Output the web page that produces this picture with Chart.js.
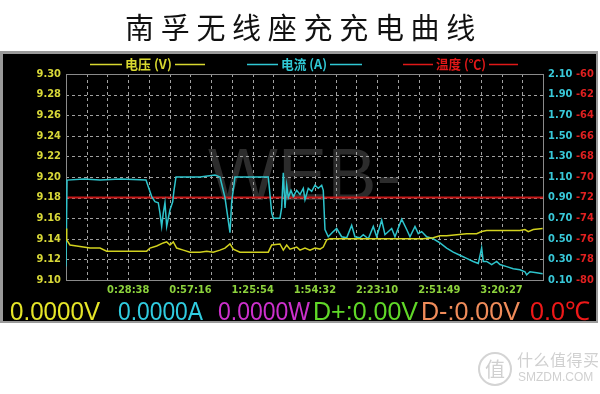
<!DOCTYPE html>
<html>
<head>
<meta charset="utf-8">
<script src="https://cdn.jsdelivr.net/npm/chart.js@4.4.1/dist/chart.umd.min.js"></script>
<style>
  html, body { margin: 0; padding: 0; background: #fff; }
  #wrap { position: relative; width: 600px; height: 394px; overflow: hidden; }
  #c { position: absolute; left: 0; top: 0; }
  #title { position: absolute; left: 125px; top: 10px; font: 29px/32px "Noto Sans CJK SC", sans-serif; letter-spacing: 6.7px; color: #111; white-space: nowrap; }
  #logo { position: absolute; left: 478px; top: 352px; width: 30px; height: 30px; border: 2px solid #d4d4d4; border-radius: 50%; color: #d0d0d0; font: 20px/30px "Noto Sans CJK SC", sans-serif; text-align: center; }
  #wm1 { position: absolute; left: 517px; top: 350px; font: 16px/18px "Noto Sans CJK SC", sans-serif; color: #d0d0d0; letter-spacing: 0.5px; }
  #wm2 { position: absolute; left: 518px; top: 370px; font: 12px/14px "Liberation Sans", sans-serif; color: #d0d0d0; }
</style>
</head>
<body>
<div id="wrap">
  <canvas id="c" width="600" height="394"></canvas>
  <div id="title">南孚无线座充充电曲线</div>
  <div id="logo">值</div>
  <div id="wm1">什么值得买</div>
  <div id="wm2">SMZDM.COM</div>
</div>
<script>
// 时间轴刻度 (h:mm:ss)
const xTickLabels = ['0:28:38', '0:57:16', '1:25:54', '1:54:32', '2:23:10', '2:51:49', '3:20:27'];
// 左轴 电压, 右轴 电流 / 温度
const voltTicks = [9.10, 9.12, 9.14, 9.16, 9.18, 9.20, 9.22, 9.24, 9.26, 9.28, 9.30];
const currTicks = [0.10, 0.30, 0.50, 0.70, 0.90, 1.10, 1.30, 1.50, 1.70, 1.90, 2.10];
const tempTicks = [-80, -78, -76, -74, -72, -70, -68, -66, -64, -62, -60];

// 电压 (V), 时间单位: 秒
const voltT = [0, 19, 110, 295, 478, 663, 939, 1124, 2228, 2319, 2504, 2686, 2780, 2871, 2963, 3056, 3239, 3424, 3700, 3885,
  4067, 4252, 4390, 4528, 4619, 4804, 5171, 5356, 5586, 5680, 5908, 6000, 6094, 6185, 6370, 6461, 6599, 6737, 6875, 7013,
  7104, 7198, 7289, 8670, 9865, 10141, 10326, 10511, 10787, 11063, 11339, 11477, 11616, 11983, 12535, 12673, 12765, 12903, 13162];
const voltV = [9.150, 9.139, 9.134, 9.133, 9.132, 9.131, 9.131, 9.128, 9.128, 9.131, 9.133, 9.136, 9.137, 9.134, 9.137, 9.131, 9.129, 9.127, 9.127, 9.128,
  9.127, 9.129, 9.131, 9.135, 9.130, 9.127, 9.127, 9.127, 9.127, 9.134, 9.135, 9.129, 9.134, 9.130, 9.132, 9.129, 9.131, 9.129, 9.131, 9.130,
  9.132, 9.139, 9.140, 9.140, 9.140, 9.141, 9.143, 9.143, 9.144, 9.145, 9.145, 9.147, 9.148, 9.148, 9.148, 9.149, 9.147, 9.149, 9.150];

// 电流 (A)
const currT = [0, 28, 500, 939, 1500, 2209, 2366, 2457, 2548, 2595, 2642, 2686, 2733, 2780, 2871, 2946, 2982, 3037, 3700, 4114,
  4252, 4390, 4528, 4575, 4666, 5586, 5680, 5724, 5908, 5955, 6000, 6047, 6094, 6138, 6212, 6276, 6370, 6461, 6552, 6599,
  6690, 6784, 6875, 6966, 7060, 7104, 7151, 7242, 7380, 7474, 7612, 7750, 7888, 7979, 8117, 8209, 8347, 8485, 8579, 8717,
  8808, 8993, 9084, 9269, 9407, 9498, 9636, 9727, 9821, 9959, 10141, 10326, 10511, 10693, 10878, 11063, 11245, 11384, 11477, 11522,
  11616, 11754, 11892, 11983, 12168, 12350, 12535, 12673, 12720, 12811, 12996, 13162];
const currA = [0.23, 1.07, 1.08, 1.07, 1.08, 1.07, 0.91, 0.86, 0.85, 0.75, 0.62, 0.75, 0.85, 0.62, 0.78, 0.86, 0.97, 1.10, 1.10, 1.12,
  1.10, 0.90, 0.56, 0.86, 1.10, 1.10, 0.75, 0.70, 0.70, 0.80, 1.14, 0.80, 1.02, 0.90, 0.97, 0.91, 0.97, 0.93, 0.99, 0.88,
  0.99, 0.96, 1.02, 0.99, 1.02, 0.97, 0.59, 0.52, 0.57, 0.60, 0.52, 0.51, 0.63, 0.52, 0.51, 0.54, 0.50, 0.62, 0.52, 0.68,
  0.54, 0.60, 0.52, 0.69, 0.59, 0.52, 0.62, 0.55, 0.57, 0.52, 0.50, 0.46, 0.41, 0.37, 0.34, 0.31, 0.28, 0.26, 0.41, 0.28,
  0.28, 0.25, 0.28, 0.25, 0.23, 0.21, 0.20, 0.18, 0.15, 0.18, 0.17, 0.16];

// 温度 (℃)
const tempT = [0, 13172];
const tempC = [-72, -72];

const toSec = s => s.split(':').reduce((a, v) => a * 60 + Number(v), 0);
const gridStep = toSec(xTickLabels[0]) / 3;
const xMax = gridStep * 23;

const pts = (xs, ys) => xs.map((x, i) => ({ x: x, y: ys[i] }));

// 黑色面板, 虚线网格, 水印, 图例, 底部读数
const panelPlugin = {
  id: 'panel',
  beforeDraw(chart) {
    const ctx = chart.ctx;
    ctx.save();
    ctx.fillStyle = '#ffffff';
    ctx.fillRect(0, 0, 600, 394);
    ctx.fillStyle = '#9a9a9a';
    ctx.fillRect(0, 51, 598, 272);
    ctx.fillStyle = '#000000';
    ctx.fillRect(3, 54, 593, 267);
    ctx.restore();
  },
  beforeDatasetsDraw(chart) {
    const ctx = chart.ctx;
    const a = chart.chartArea;
    const sx = chart.scales.x, sy = chart.scales.yV;
    ctx.save();
    ctx.font = '74px "Liberation Sans"';
    ctx.fillStyle = '#2c2c2c';
    ctx.textBaseline = 'alphabetic';
    ctx.fillText('WEB-', 208, 200);

    ctx.strokeStyle = '#a0a0a0';
    ctx.lineWidth = 1;
    ctx.setLineDash([3, 3]);
    ctx.beginPath();
    sx.ticks.forEach(t => {
      const px = Math.round(sx.getPixelForValue(t.value)) + 0.5;
      ctx.moveTo(px, a.top); ctx.lineTo(px, a.bottom);
    });
    sy.ticks.forEach(t => {
      const py = Math.round(sy.getPixelForValue(t.value)) + 0.5;
      ctx.moveTo(a.left, py); ctx.lineTo(a.right, py);
    });
    ctx.stroke();
    ctx.setLineDash([]);
    ctx.strokeStyle = '#8a8a8a';
    ctx.strokeRect(Math.round(a.left) + 0.5, Math.round(a.top) + 0.5, Math.round(a.right - a.left), Math.round(a.bottom - a.top));
    ctx.restore();
  },
  afterDraw(chart) {
    const ctx = chart.ctx;
    ctx.save();
    // 图例
    const leg = [
      { i: 0, l1: 90, l2: 122, tx: 125, r1: 175, r2: 205, c: '#d8d830' },
      { i: 1, l1: 247, l2: 278, tx: 281, r1: 330, r2: 362, c: '#30c8d4' },
      { i: 2, l1: 403, l2: 433, tx: 436, r1: 489, r2: 518, c: '#e01818' }
    ];
    ctx.font = 'bold 13px "Noto Sans CJK SC"';
    ctx.textBaseline = 'middle';
    leg.forEach(g => {
      ctx.strokeStyle = g.c;
      ctx.lineWidth = 1.5;
      ctx.beginPath();
      ctx.moveTo(g.l1, 64.5); ctx.lineTo(g.l2, 64.5);
      ctx.moveTo(g.r1, 64.5); ctx.lineTo(g.r2, 64.5);
      ctx.stroke();
      ctx.fillStyle = g.c;
      ctx.fillText(chart.data.datasets[g.i].label, g.tx, 64, g.r1 - g.tx - 3);
    });
    // 底部读数
    const readings = [
      ['0.0000V', 10, 90, '#e6e628'],
      ['0.0000A', 118, 85, '#30cce0'],
      ['0.0000W', 218, 92, '#cc30cc'],
      ['D+:0.00V', 313, 105, '#60d828'],
      ['D-:0.00V', 421, 99, '#f08c5a'],
      ['0.0℃', 530, 60, '#ee1818']
    ];
    ctx.font = '26px "Liberation Sans"';
    ctx.textBaseline = 'alphabetic';
    readings.forEach(r => {
      ctx.fillStyle = r[3];
      ctx.fillText(r[0], r[1], 320, r[2]);
    });
    ctx.restore();
  }
};

const tickFont = { family: '"DejaVu Sans Condensed", "DejaVu Sans"', size: 11, weight: 'bold' };
const noGrid = { display: false, drawTicks: false };

new Chart(document.getElementById('c').getContext('2d'), {
  type: 'line',
  data: {
    datasets: [
      { label: '电压 (V)', data: pts(voltT, voltV), yAxisID: 'yV', borderColor: '#d2d21e', borderWidth: 1.5, pointRadius: 0, tension: 0 },
      { label: '电流 (A)', data: pts(currT, currA), yAxisID: 'yA', borderColor: '#2ec4cc', borderWidth: 1.5, pointRadius: 0, tension: 0 },
      { label: '温度 (℃)', data: pts(tempT, tempC), yAxisID: 'yT', borderColor: '#c81818', borderWidth: 2, pointRadius: 0, tension: 0 }
    ]
  },
  options: {
    responsive: false,
    animation: false,
    layout: { padding: { left: 0, right: 0, top: 74, bottom: 94 } },
    plugins: { legend: { display: false }, tooltip: { enabled: false } },
    scales: {
      x: {
        type: 'linear', min: 0, max: xMax,
        afterBuildTicks: s => { s.ticks = []; for (let i = 0; i <= 23; i++) s.ticks.push({ value: i * gridStep }); },
        afterFit: s => { s.height = 20; },
        grid: noGrid,
        border: { display: false },
        ticks: {
          autoSkip: false, maxRotation: 0, padding: 4, color: '#8cd23c', font: tickFont,
          callback: (v, i) => (i % 3 === 0 && i > 0 && i / 3 <= xTickLabels.length) ? xTickLabels[i / 3 - 1] : ''
        }
      },
      yV: {
        position: 'left', min: voltTicks[0], max: voltTicks[voltTicks.length - 1],
        afterBuildTicks: s => { s.ticks = voltTicks.map(v => ({ value: v })); },
        afterFit: s => { s.width = 66; },
        grid: noGrid,
        border: { display: false },
        ticks: { padding: 5, color: '#d8d838', font: tickFont, callback: v => v.toFixed(2) }
      },
      yA: {
        position: 'right', min: currTicks[0], max: currTicks[currTicks.length - 1],
        afterBuildTicks: s => { s.ticks = currTicks.map(v => ({ value: v })); },
        afterFit: s => { s.width = 30; },
        grid: noGrid,
        border: { display: false },
        ticks: { padding: 5, color: '#38c8d8', font: tickFont, callback: v => v.toFixed(2) }
      },
      yT: {
        position: 'right', min: tempTicks[0], max: tempTicks[tempTicks.length - 1],
        afterBuildTicks: s => { s.ticks = tempTicks.map(v => ({ value: v })); },
        afterFit: s => { s.width = 27; },
        grid: noGrid,
        border: { display: false },
        ticks: { padding: 3, color: '#e02020', font: tickFont, callback: v => String(v) }
      }
    }
  },
  plugins: [panelPlugin]
});
</script>
</body>
</html>
